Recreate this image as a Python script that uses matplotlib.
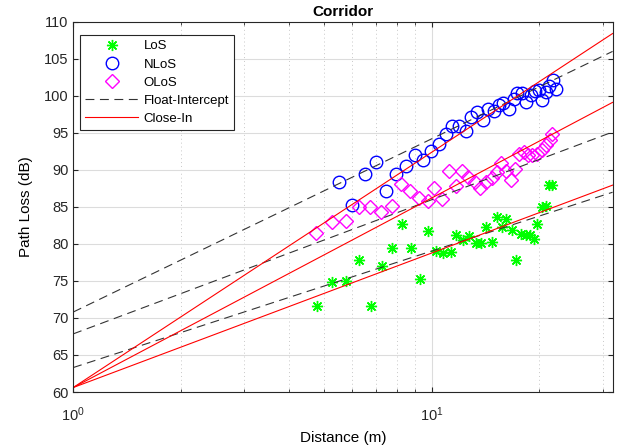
import numpy as np
import matplotlib
matplotlib.use("Agg")
import matplotlib.pyplot as plt

plt.rcParams['font.family'] = ['Liberation Sans', 'DejaVu Sans']

# measured points (distance in m, path loss in dB)
los_d = [4.78, 5.28, 5.78, 6.28, 6.79, 7.26, 7.74, 8.25, 8.74, 9.26, 9.78, 10.26,
         10.76, 11.30, 11.74, 12.25, 12.72, 13.27, 13.78, 14.23, 14.79, 15.25, 16.18,
         15.77, 16.81, 17.25, 17.76, 18.33, 18.83, 19.32, 19.74, 20.38, 20.84, 21.31, 21.73]
los_pl = [71.6, 74.9, 75.0, 77.8, 71.6, 77.0, 79.5, 82.7, 79.5, 75.3, 81.7, 79.1,
          78.8, 78.9, 81.2, 80.6, 81.1, 80.1, 80.1, 82.3, 80.3, 83.7, 83.4,
          82.3, 81.9, 77.8, 81.4, 81.2, 81.2, 80.7, 82.7, 85.0, 85.1, 88.0, 88.0]

nlos_d = [5.52, 6.01, 6.51, 7.00, 7.48, 7.97, 8.47, 8.97, 9.46, 9.98, 10.46, 10.96,
          11.42, 11.93, 12.46, 12.87, 13.43, 13.90, 14.39, 14.94, 15.46, 15.87, 16.41,
          16.94, 17.34, 17.93, 18.39, 18.95, 19.46, 19.90, 20.34, 20.87, 21.22, 21.83, 22.30]
nlos_pl = [88.4, 85.3, 89.5, 91.1, 87.2, 89.5, 90.5, 92.0, 91.4, 92.5, 93.5, 94.8,
           95.9, 96.0, 95.3, 97.2, 97.8, 96.7, 98.2, 98.0, 98.8, 99.0, 98.2,
           99.6, 100.4, 100.4, 99.2, 100.1, 100.7, 100.8, 99.4, 100.6, 101.3, 102.2, 101.0]

olos_d = [4.77, 5.28, 5.76, 6.27, 6.75, 7.24, 7.76, 8.23, 8.73, 9.24, 9.75, 10.19,
          10.71, 11.22, 11.74, 12.18, 12.62, 13.18, 13.67, 14.20, 14.79, 15.22, 15.64,
          16.15, 16.67, 17.14, 17.59, 18.10, 18.54, 19.11, 19.74, 20.34, 20.87, 21.41, 21.69]
olos_pl = [81.5, 83.0, 83.1, 85.0, 85.0, 84.3, 85.1, 88.1, 87.2, 86.2, 85.8, 87.5,
           86.1, 89.8, 87.8, 89.8, 89.0, 88.4, 87.5, 88.4, 88.9, 89.7, 90.9,
           89.9, 88.7, 90.1, 92.1, 92.4, 92.0, 92.0, 92.2, 92.7, 93.4, 94.1, 94.9]

# model parameters: LoS, NLoS, OLoS
fi_alpha = [63.3, 70.8, 67.85]
fi_beta = [15.74, 23.4, 18.12]
ci_fspl = 60.6
ci_n = [1.817, 3.178, 2.56]

fig = plt.figure(figsize=(6.2, 4.48), dpi=100)
ax = fig.add_axes([0.118, 0.125, 0.870, 0.826])

ax.plot(los_d, los_pl, linestyle='none', marker=(8, 2, 0), color=(0, 1, 0),
        markersize=8, markeredgewidth=1.0, label='LoS')
ax.plot(nlos_d, nlos_pl, linestyle='none', marker='o', markerfacecolor='none',
        markeredgecolor=(0, 0, 1), markersize=9, markeredgewidth=1.0, label='NLoS')
ax.plot(olos_d, olos_pl, linestyle='none', marker='D', markerfacecolor='none',
        markeredgecolor=(1, 0, 1), markersize=7, markeredgewidth=1.0, label='OLoS')

d = np.logspace(0, np.log10(32), 200)
for i in range(3):
    ax.plot(d, fi_alpha[i] + fi_beta[i] * np.log10(d), color='#333333', lw=0.8,
            dashes=(8, 5), label='Float-Intercept' if i == 0 else None)
for i in range(3):
    ax.plot(d, ci_fspl + 10 * ci_n[i] * np.log10(d), color='red', lw=0.8,
            label='Close-In' if i == 0 else None)

ax.set_xscale('log')
ax.set_xlim(1, 32)
ax.set_ylim(60, 110)
ax.set_yticks(np.arange(60, 111, 5))
ax.grid(True, which='major', color='#dcdcdc', lw=0.8)
ax.grid(True, which='minor', axis='x', color='#c8c8c8', lw=0.7, linestyle=(0, (1, 3)))
ax.set_axisbelow(True)
ax.tick_params(which='both', direction='in', top=True, right=True, labelsize=10.5,
               colors='#262626')
ax.tick_params(axis='x', which='major', pad=10)
ax.tick_params(which='minor', labelbottom=False)
for s in ax.spines.values():
    s.set_color('#262626')
    s.set_linewidth(0.8)

ax.set_title('Corridor', fontsize=11, fontweight='bold', pad=4)
ax.set_xlabel('Distance (m)', fontsize=11, labelpad=5)
ax.set_ylabel('Path Loss (dB)', fontsize=11, labelpad=8)

leg = ax.legend(loc='upper left', bbox_to_anchor=(0.013, 0.965), borderaxespad=0,
                fontsize=9.5, fancybox=False, framealpha=1,
                edgecolor='#262626', handlelength=4.0, handletextpad=0.4,
                labelspacing=0.45, borderpad=0.4)
leg.get_frame().set_linewidth(0.8)

fig.savefig('out.png', dpi=100)
